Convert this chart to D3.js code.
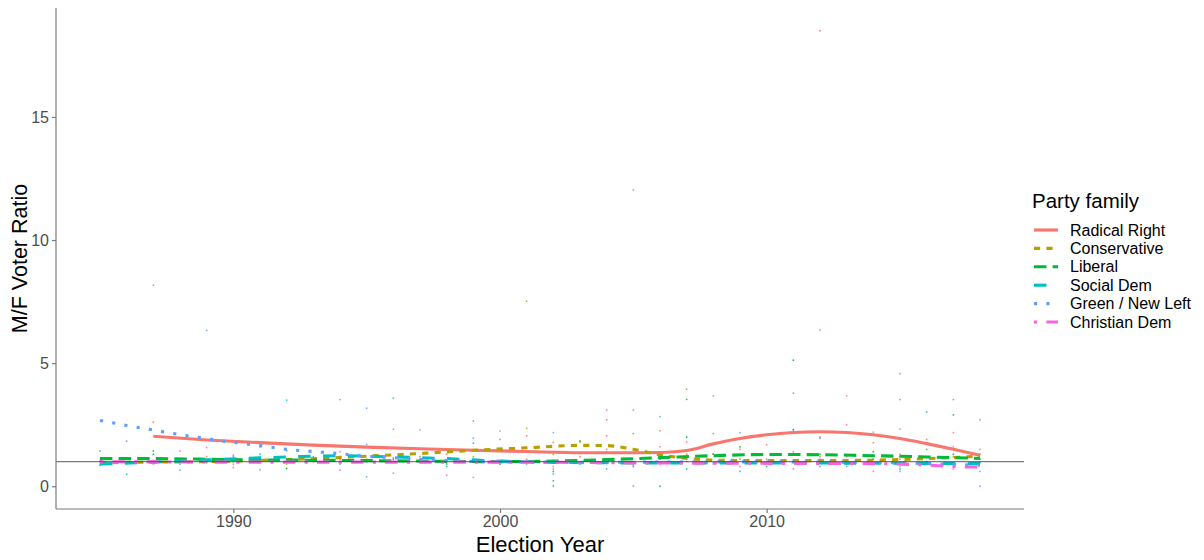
<!DOCTYPE html>
<html>
<head>
<meta charset="utf-8">
<script src="https://cdn.jsdelivr.net/npm/d3@7"></script>
<style>
    body { margin: 0; background: #fff; }
    text { font-family: "Liberation Sans", Arial, sans-serif; }
</style>
</head>
<body>
<div id="chart"></div>
<script>
// party families (legend order) and their colours / dash patterns
const families = ["Radical Right", "Conservative", "Liberal", "Social Dem", "Green / New Left", "Christian Dem"];
const familyColors = ["#F8766D", "#B79F00", "#00BA38", "#00BFC4", "#619CFF", "#F564E3"];
const familyDashes = ["none", "6.2,6.2", "12.4,6.2", "12.4,12.4", "3.1,9.3", "3.1,9.3,12.4,9.3"];

const xTicks = [1990, 2000, 2010];
const yTicks = [0, 5, 10, 15];

// observed M/F ratios, [election year, ratio]
const radicalRightPts = [[1987,2.6],[1987,1.05],[1989,1.2],[1990,1.26],[1990,0.9],[1993,1.0],[1994,3.52],[1994,1.4],
    [1996,2.32],[1996,1.15],[1998,1.3],[1999,2.65],[1999,1.0],[2000,2.24],[2001,2.05],[2001,1.1],[2002,1.78],[2002,0.8],
    [2003,1.2],[2004,3.09],[2004,2.7],[2004,1.5],[2005,3.09],[2005,0.9],[2006,2.25],[2006,1.6],[2007,3.94],[2007,1.8],
    [2008,1.3],[2009,1.5],[2010,1.68],[2010,1.1],[2011,2.3],[2011,1.4],[2012,18.5],[2012,6.35],[2012,2.0],[2013,3.67],
    [2013,2.5],[2013,1.2],[2014,1.77],[2014,2.2],[2015,4.57],[2015,2.32],[2015,1.3],[2016,1.9],[2017,2.18],[2017,1.6],
    [2018,2.7],[2018,1.5]];
const conservativePts = [[1985,0.9],[1986,1.1],[1987,1.0],[1989,0.95],[1990,1.0],[1992,0.9],[1994,1.1],[1995,1.1],
    [1997,1.2],[1999,1.2],[2001,7.52],[2001,2.35],[2002,1.3],[2003,1.8],[2004,1.4],[2005,12.04],[2005,2.14],[2006,1.2],
    [2007,1.3],[2008,0.9],[2009,1.1],[2010,1.0],[2011,1.05],[2012,1.2],[2013,1.0],[2014,0.9],[2015,3.52],[2015,1.1],
    [2016,1.0],[2017,1.2],[2018,1.3],[2018,1.0]];
const liberalPts = [[1985,1.0],[1986,1.1],[1987,1.43],[1987,1.3],[1989,1.0],[1990,1.1],[1992,1.45],[1992,0.72],[1994,1.2],
    [1996,1.1],[1998,0.9],[2000,1.0],[2002,0.22],[2002,0.6],[2003,1.84],[2004,1.1],[2006,0.0],[2006,1.2],[2007,3.53],
    [2007,2.0],[2008,1.3],[2009,1.6],[2010,0.8],[2011,5.12],[2011,2.29],[2012,1.3],[2013,1.0],[2014,1.4],[2015,1.2],
    [2016,1.5],[2017,2.9],[2017,1.3],[2018,1.1]];
const socialDemPts = [[1985,0.85],[1986,0.49],[1987,1.0],[1988,0.9],[1990,1.1],[1991,1.3],[1992,3.5],[1993,1.2],[1994,0.9],
    [1995,1.0],[1996,3.58],[1997,1.1],[1998,0.8],[1999,1.75],[2000,0.9],[2001,1.0],[2002,0.01],[2002,0.5],[2003,0.9],
    [2004,0.95],[2005,0.8],[2006,1.1],[2007,0.7],[2008,0.95],[2009,0.6],[2010,0.9],[2011,1.0],[2012,0.8],[2013,0.9],
    [2014,1.1],[2015,0.7],[2016,3.02],[2017,0.9],[2018,0.95]];
const greenPts = [[1985,1.43],[1986,1.83],[1987,8.17],[1988,0.65],[1989,6.33],[1990,1.2],[1991,1.6],[1991,0.67],[1993,1.1],
    [1995,3.17],[1995,1.7],[1995,0.38],[1997,2.29],[1999,1.95],[2000,1.9],[2001,0.9],[2002,2.18],[2003,1.0],[2004,0.7],
    [2005,0.01],[2006,2.83],[2007,1.2],[2008,2.14],[2009,2.18],[2010,0.9],[2011,3.78],[2012,1.94],[2013,0.8],[2014,1.1],
    [2015,0.6],[2016,1.0],[2017,3.52],[2018,0.0],[2018,0.6]];
const christianDemPts = [[1985,1.05],[1987,0.9],[1988,1.43],[1989,1.57],[1990,0.76],[1992,1.0],[1994,0.66],[1996,0.53],
    [1998,0.45],[1999,0.36],[2000,0.9],[2001,1.0],[2002,0.7],[2003,1.0],[2004,2.05],[2005,0.85],[2006,0.9],[2007,1.0],
    [2008,3.67],[2009,0.8],[2010,0.9],[2011,0.7],[2012,1.1],[2013,0.9],[2014,0.6],[2015,0.8],[2016,0.9],[2017,0.7]];

// smoothed trend per family, [year, ratio]
const radicalRightFit = [[1987,2.03],[1989,1.88],[1991,1.77],[1993,1.67],[1995,1.59],[1997,1.52],[1999,1.46],[2001,1.41],
    [2003,1.36],[2005,1.36],[2006,1.37],[2007,1.45],[2008,1.72],[2009,1.94],[2010,2.09],[2011,2.18],[2012,2.21],[2013,2.18],
    [2014,2.09],[2015,1.94],[2016,1.73],[2017,1.5],[2018,1.26]];
const conservativeFit = [[1985,0.95],[1987,0.98],[1989,1.0],[1991,1.05],[1993,1.12],[1995,1.22],[1997,1.33],[1999,1.46],
    [2001,1.56],[2003,1.66],[2004,1.65],[2005,1.5],[2006,1.28],[2007,1.13],[2008,1.06],[2010,1.04],[2012,1.04],[2014,1.06],
    [2016,1.12],[2018,1.22]];
const liberalFit = [[1985,1.12],[1987,1.12],[1990,1.08],[1995,1.04],[2000,1.0],[2002,1.02],[2004,1.08],[2006,1.16],
    [2008,1.24],[2010,1.29],[2012,1.28],[2014,1.24],[2016,1.19],[2018,1.13]];
const socialDemFit = [[1985,0.9],[1987,0.98],[1989,1.07],[1991,1.15],[1993,1.22],[1994,1.24],[1996,1.19],[1998,1.12],
    [2000,1.02],[2002,0.97],[2005,0.95],[2010,0.95],[2015,0.93],[2018,0.92]];
const greenFit = [[1985,2.67],[1986,2.47],[1987,2.28],[1988,2.1],[1989,1.93],[1990,1.78],[1991,1.65],[1992,1.5],[1993,1.41],
    [1994,1.32],[1995,1.22],[1996,1.16],[1997,1.1],[1998,1.04],[2000,0.99],[2003,0.97],[2006,0.98],[2009,0.99],[2012,0.98],
    [2015,0.95],[2017,0.88],[2018,0.85]];
const christianDemFit = [[1985,1.0],[1990,0.98],[1995,0.98],[2000,0.98],[2005,0.95],[2010,0.93],[2014,0.92],[2016,0.86],
    [2017,0.8],[2018,0.78]];

const allPts = [radicalRightPts, conservativePts, liberalPts, socialDemPts, greenPts, christianDemPts];
const allFits = [radicalRightFit, conservativeFit, liberalFit, socialDemFit, greenFit, christianDemFit];

const width = 1204, height = 560;
const panel = {left: 56, right: 1024, top: 8, bottom: 509};

const svg = d3.select("#chart").append("svg")
    .attr("width", width)
    .attr("height", height);

const x = d3.scaleLinear().domain([1983.35, 2019.65]).range([panel.left, panel.right]);
const y = d3.scaleLinear().domain([-0.925, 19.425]).range([panel.bottom, panel.top]);

// points
allPts.forEach((pts, i) => {
    svg.append("g").selectAll("circle")
        .data(pts)
        .enter()
        .append("circle")
        .attr("cx", d => x(d[0]))
        .attr("cy", d => y(d[1]))
        .attr("r", 0.9)
        .attr("fill", familyColors[i])
        .style("opacity", 0.85);
});

// smoothed lines
const line = d3.line()
    .x(d => x(d[0]))
    .y(d => y(d[1]))
    .curve(d3.curveMonotoneX);

allFits.forEach((fit, i) => {
    svg.append("path")
        .attr("d", line(fit))
        .attr("fill", "none")
        .attr("stroke", familyColors[i])
        .attr("stroke-width", 3.1)
        .attr("stroke-dasharray", familyDashes[i]);
});

// reference line at ratio 1
svg.append("line")
    .attr("x1", panel.left).attr("x2", panel.right)
    .attr("y1", y(1)).attr("y2", y(1))
    .attr("stroke", "#444")
    .attr("stroke-width", 1.3)
    .style("opacity", 0.7);

// axes
const xAxis = svg.append("g")
    .attr("transform", `translate(0, ${panel.bottom})`)
    .call(d3.axisBottom(x).tickValues(xTicks).tickFormat(d3.format("d")).tickSize(4).tickPadding(3).tickSizeOuter(0));
const yAxis = svg.append("g")
    .attr("transform", `translate(${panel.left}, 0)`)
    .call(d3.axisLeft(y).tickValues(yTicks).tickSize(4).tickPadding(3).tickSizeOuter(0));

[xAxis, yAxis].forEach(ax => {
    ax.select(".domain").attr("stroke", "#7a7a7a").attr("stroke-width", 1.2);
    ax.selectAll(".tick line").attr("stroke", "#7a7a7a").attr("stroke-width", 1.2);
    ax.selectAll(".tick text").attr("fill", "#4d4d4d").style("font-size", "16px");
});
// y axis line spans the whole panel
yAxis.select(".domain").attr("d", `M0,${panel.top}V${panel.bottom}`);
xAxis.select(".domain").attr("d", `M${panel.left},0H${panel.right}`);

// axis titles
svg.append("text")
    .attr("x", (panel.left + panel.right) / 2)
    .attr("y", 552)
    .attr("text-anchor", "middle")
    .style("font-size", "22px")
    .text("Election Year");

svg.append("text")
    .attr("transform", `translate(27, ${(panel.top + panel.bottom) / 2}) rotate(-90)`)
    .attr("text-anchor", "middle")
    .style("font-size", "21.5px")
    .text("M/F Voter Ratio");

// legend
const legend = svg.append("g").attr("transform", "translate(1032, 0)");
legend.append("text")
    .attr("x", 0).attr("y", 208)
    .style("font-size", "20.5px")
    .text("Party family");

families.forEach((name, i) => {
    const ly = 230 + i * 18.4;
    legend.append("line")
        .attr("x1", 2).attr("x2", 26)
        .attr("y1", ly).attr("y2", ly)
        .attr("stroke", familyColors[i])
        .attr("stroke-width", 3.1)
        .attr("stroke-dasharray", familyDashes[i]);
    legend.append("text")
        .attr("x", 38).attr("y", ly + 5.5)
        .style("font-size", "16px")
        .text(name);
});
</script>
</body>
</html>
